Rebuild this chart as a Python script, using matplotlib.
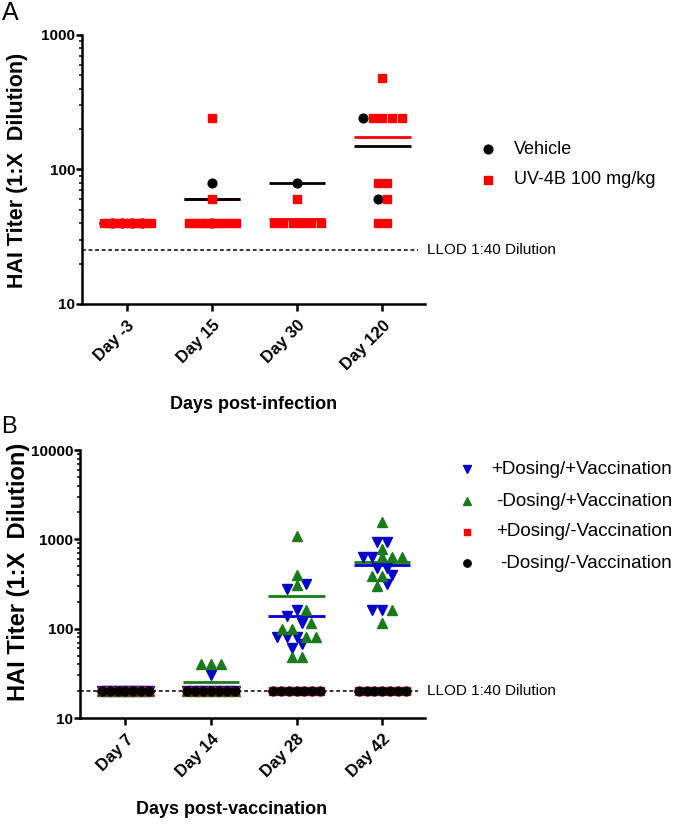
import numpy as np
import matplotlib
matplotlib.use("Agg")
import matplotlib.pyplot as plt
from matplotlib.lines import Line2D
from matplotlib import transforms
from matplotlib.ticker import LogLocator, NullFormatter

plt.rcParams['font.family'] = ['Liberation Sans', 'DejaVu Sans']

# ---- panel A data (HAI titer, days post-infection) ----
days_a = ['Day -3', 'Day 15', 'Day 30', 'Day 120']
vehicle = [[40, 40, 40, 40],
           [80, 40],
           [80],
           [240, 60]]
uv4b = [[40, 40, 40, 40, 40, 40, 40, 40, 40, 40],
        [240, 60, 40, 40, 40, 40, 40, 40, 40, 40, 40],
        [60, 40, 40, 40, 40, 40, 40],
        [480, 240, 240, 240, 240, 80, 80, 60, 40, 40]]
llod_a = 25

# ---- panel B data (HAI titer, days post-vaccination) ----
days_b = ['Day 7', 'Day 14', 'Day 28', 'Day 42']
dose_vacc = [[20, 20, 20, 20, 20, 20, 20, 20, 20, 20],
             [30, 20, 20, 20, 20, 20, 20, 20, 20, 20],
             [320, 280, 160, 140, 117, 80, 80, 80, 67, 60],
             [940, 940, 640, 640, 480, 480, 400, 320, 160, 160]]
nodose_vacc = [[20, 20, 20, 20, 20, 20, 20, 20, 20, 20],
               [40, 40, 40, 20, 20, 20, 20, 20, 20, 20, 20],
               [1100, 400, 310, 160, 117, 100, 100, 80, 80, 48, 48],
               [1550, 780, 640, 640, 640, 390, 390, 300, 160, 115]]
dose_novacc = [[20, 20, 20, 20, 20, 20, 20],
               [20, 20, 20, 20, 20, 20, 20],
               [20, 20, 20, 20, 20, 20, 20],
               [20, 20, 20, 20, 20, 20, 20]]
nodose_novacc = [[20, 20, 20, 20, 20, 20, 20],
                 [20, 20, 20, 20, 20, 20, 20],
                 [20, 20, 20, 20, 20, 20, 20],
                 [20, 20, 20, 20, 20, 20, 20]]
llod_b = 20

W, H = 675, 825


def fx(x):
    return x / W


def fy(y):
    return 1 - y / H


def swarm_offsets(groups, step=0.115, maxw=0.55, tol=0.07):
    # simple column-scatter layout: points of similar value sit side by side
    pts = []
    for gi, vals in enumerate(groups):
        for vi, v in enumerate(vals):
            pts.append((np.log10(v), gi, vi))
    pts.sort()
    offs = [np.zeros(len(v)) for v in groups]
    i = 0
    while i < len(pts):
        j = i
        while j < len(pts) and pts[j][0] - pts[i][0] <= tol:
            j += 1
        row = pts[i:j]
        n = len(row)
        if (n - 1) * step <= maxw:
            for k, (_, gi, vi) in enumerate(row):
                offs[gi][vi] = (k - (n - 1) / 2) * step
        else:
            for gi in sorted(set(p[1] for p in row)):
                members = [p for p in row if p[1] == gi]
                m = len(members)
                sp = step if m < 2 else min(step, maxw / (m - 1))
                for k, (_, _, vi) in enumerate(members):
                    offs[gi][vi] = (k - (m - 1) / 2) * sp
        i = j
    return offs


def draw_panel(ax, series, styles, labels, ylim, yticks, llod):
    ncat = len(labels)
    for ci in range(ncat):
        offs = swarm_offsets([s[ci] for s in series])
        for gi, s in enumerate(series):
            st = styles[gi]
            vals = np.array(s[ci], dtype=float)
            ax.plot(ci + offs[gi], vals, ls='none', marker=st['marker'],
                    ms=st['ms'], color=st['color'], mec=st['color'],
                    zorder=3 + gi, clip_on=False)
            m = vals.mean()
            ax.plot([ci - 0.33, ci + 0.33], [m, m], color=st['color'],
                    lw=2, zorder=2.5 - 0.1 * gi, solid_capstyle='butt')
    ax.set_yscale('log')
    ax.set_ylim(*ylim)
    ax.set_xlim(-0.53, 3.5)
    ax.set_yticks(yticks)
    ax.set_yticklabels([str(t) for t in yticks])
    ax.yaxis.set_minor_locator(LogLocator(base=10, subs=np.arange(2, 10)))
    ax.yaxis.set_minor_formatter(NullFormatter())
    ax.set_xticks(range(ncat))
    ax.set_xticklabels(labels, rotation=45, ha='right', rotation_mode='anchor')
    for sp in ['top', 'right']:
        ax.spines[sp].set_visible(False)
    for sp in ['left', 'bottom']:
        ax.spines[sp].set_linewidth(1.8)
    ax.tick_params(axis='y', which='major', length=4, width=1.8, pad=1, labelsize=11)
    ax.tick_params(axis='y', which='minor', length=2.5, width=1.1)
    ax.tick_params(axis='x', which='major', length=5, width=1.8, pad=5, labelsize=12)
    for lbl in ax.get_xticklabels() + ax.get_yticklabels():
        lbl.set_fontweight('bold')
    ax.axhline(llod, xmin=0, xmax=0.98, color='black', lw=1.1,
               ls=(0, (2.5, 1.8)), zorder=1.5)
    tr = transforms.blended_transform_factory(ax.transAxes, ax.transData)
    ax.text(1.005, llod, 'LLOD 1:40 Dilution', transform=tr, ha='left',
            va='center', fontsize=11)


fig = plt.figure(figsize=(6.75, 8.25), dpi=100)

# ---- panel A ----
axA = fig.add_axes([fx(82), fy(304), fx(425 - 82), (304 - 35) / H])
styles_a = [dict(marker='o', ms=6.3, color='black'),
            dict(marker='s', ms=5.8, color='#ff0000')]
draw_panel(axA, [vehicle, uv4b], styles_a, days_a, (10, 1000), [10, 100, 1000], llod_a)

fig.text(fx(10), fy(13), 'A', fontsize=18, ha='center', va='center')
fig.text(fx(18), fy(170), 'HAI Titer (1:X  Dilution)', rotation=90,
         ha='center', va='center', fontsize=15.5, fontweight='bold')
fig.text(fx(254), fy(404), 'Days post-infection', ha='center', va='center',
         fontsize=13, fontweight='bold')

leg_a = [('Vehicle', styles_a[0], 149), ('UV-4B 100 mg/kg', styles_a[1], 180)]
for txt, st, yy in leg_a:
    fig.add_artist(Line2D([fx(488)], [fy(yy)], ls='none', marker=st['marker'],
                          ms=st['ms'], color=st['color'], transform=fig.transFigure))
    fig.text(fx(514), fy(yy), txt, ha='left', va='center', fontsize=13)

# ---- panel B ----
axB = fig.add_axes([fx(80), fy(718), fx(425 - 80), (718 - 450) / H])
styles_b = [dict(marker='v', ms=7, color='#0000cc'),
            dict(marker='^', ms=7, color='#1a7a1a'),
            dict(marker='s', ms=5.8, color='#ff0000'),
            dict(marker='o', ms=6.3, color='black')]
draw_panel(axB, [dose_vacc, nodose_vacc, dose_novacc, nodose_novacc], styles_b,
           days_b, (10, 10000), [10, 100, 1000, 10000], llod_b)

fig.text(fx(9), fy(427), 'B', fontsize=17, ha='center', va='center')
fig.text(fx(19), fy(572), 'HAI Titer (1:X  Dilution)', rotation=90,
         ha='center', va='center', fontsize=17, fontweight='bold')
fig.text(fx(232), fy(810), 'Days post-vaccination', ha='center', va='center',
         fontsize=13, fontweight='bold')

leg_b = [('+Dosing/+Vaccination', styles_b[0], 469),
         ('-Dosing/+Vaccination', styles_b[1], 501),
         ('+Dosing/-Vaccination', styles_b[2], 532),
         ('-Dosing/-Vaccination', styles_b[3], 563)]
for txt, st, yy in leg_b:
    fig.add_artist(Line2D([fx(467)], [fy(yy)], ls='none', marker=st['marker'],
                          ms=st['ms'] - 1, color=st['color'], transform=fig.transFigure))
    fig.text(fx(672), fy(yy), txt, ha='right', va='center', fontsize=13.5)

fig.savefig('out.png', dpi=100)
